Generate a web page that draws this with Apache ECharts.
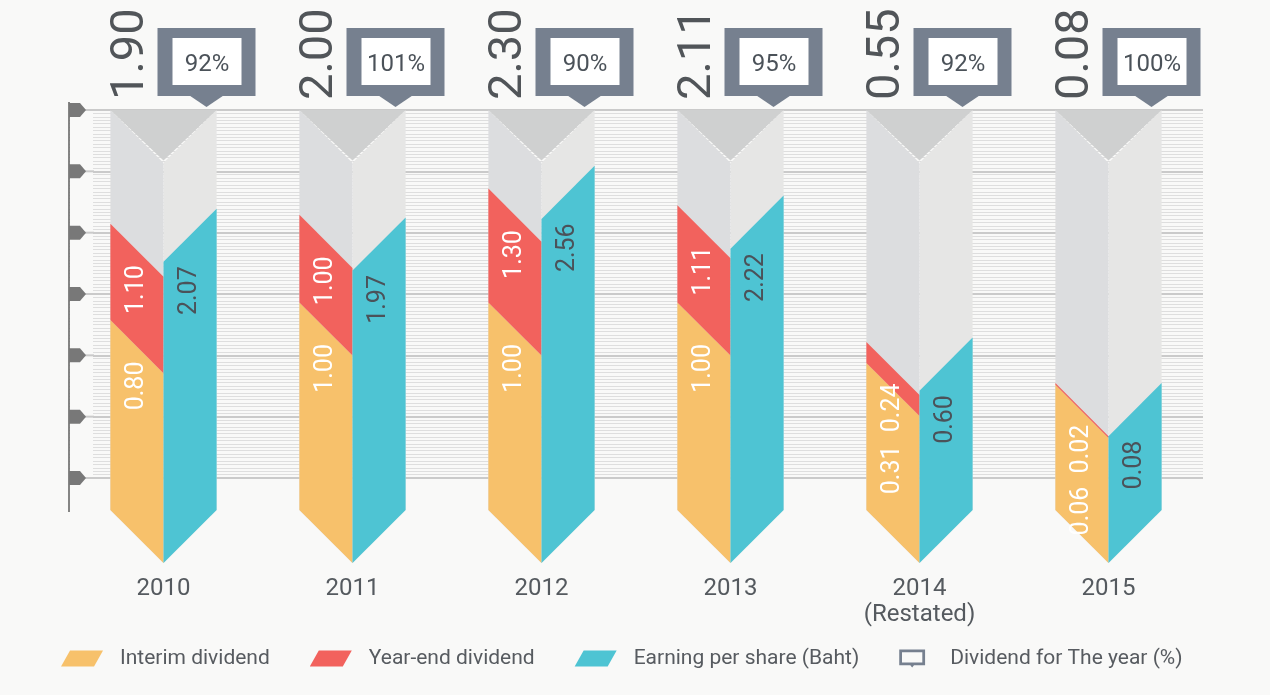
<!DOCTYPE html>
<html><head><meta charset="utf-8">
<script src="https://cdn.jsdelivr.net/npm/echarts@6/dist/echarts.min.js"></script>
<style>html,body{margin:0;padding:0;background:#f9f9f8;} #chart{width:1270px;height:695px;}</style>
</head><body><div id="chart"></div>
<script>
// ---- data ----
const years = ['2010', '2011', '2012', '2013', '2014\n(Restated)', '2015'];
const interimDividend = [0.80, 1.00, 1.00, 1.00, 0.31, 0.06];
const yearEndDividend = [1.10, 1.00, 1.30, 1.11, 0.24, 0.02];
const earningPerShare = [2.07, 1.97, 2.56, 2.22, 0.60, 0.08];
const payoutPercent = [92, 101, 90, 95, 92, 100];

// ---- style ----
const FONT = 'Roboto, "Noto Sans", sans-serif';
const C_INTERIM = '#f7c16b', C_YEAREND = '#f2625d', C_EPS = '#4ec4d3', C_CALLOUT = '#76808f';
const C_TEXT = '#4b5259', BG = '#f9f9f8';
const COL = 0.281;          // column width as a fraction of the category band
const AX_MIN = -0.7, AX_MAX = 3.5, AX_INT = 0.7;

function frame(params, api) {
  const cs = params.coordSys;
  const i = api.value(0);
  const cx = api.coord([i, 0])[0];
  const w = api.size([1, 0])[0] * COL;
  return { i, cx, w, top: cs.y, baseMid: cs.y + cs.height + 58.5 };
}
const yOf = (api, i, v) => api.coord([i, v])[1];
const leftPoly = (cx, w, yHi, yLo) => [[cx - w, yHi - w / 2], [cx, yHi + w / 2], [cx, yLo + w / 2], [cx - w, yLo - w / 2]];
const rightPoly = (cx, w, yHi, yLo) => [[cx, yHi + w / 2], [cx + w, yHi - w / 2], [cx + w, yLo - w / 2], [cx, yLo + w / 2]];
function vText(x, y, text, align, size, color) {
  return { type: 'text', x, y, rotation: Math.PI / 2,
    style: { text, align, verticalAlign: 'middle', fontSize: size, fontFamily: FONT, fill: color } };
}

const idx = years.map((_, i) => i);
const PARA = 'path://M9,0 L42,0 L33,16 L0,16 Z';
const CALL = 'path://M0,0 L28,0 L28,17 L16,17 L14,19.5 L12,17 L0,17 Z M3,3 L3,14 L25,14 L25,3 Z';

const chart = echarts.init(document.getElementById('chart'));
chart.setOption({
  backgroundColor: BG,
  animation: false,
  grid: { left: 69, right: 67, top: 110, bottom: 217 },
  xAxis: {
    type: 'category', data: years,
    axisLine: { show: false }, axisTick: { show: false }, splitLine: { show: false },
    axisLabel: { margin: 98, fontSize: 24, color: '#555a5f', fontFamily: FONT, lineHeight: 26 }
  },
  yAxis: {
    type: 'value', min: AX_MIN, max: AX_MAX, interval: AX_INT,
    axisLabel: { show: false }, axisLine: { show: false }, axisTick: { show: false },
    splitLine: { show: true, lineStyle: { color: '#cacaca', width: 2 } },
    minorTick: { show: false, splitNumber: 18 },
    minorSplitLine: { show: true, lineStyle: { color: '#dedede', width: 1 } }
  },
  legend: {
    left: 56, top: 643, itemWidth: 42, itemHeight: 18, itemGap: 40, selectedMode: false,
    textStyle: { fontSize: 21, color: '#575b60', fontFamily: FONT, padding: [0, 0, 0, 12] },
    data: [
      { name: 'Interim dividend', icon: PARA },
      { name: 'Year-end dividend', icon: PARA },
      { name: 'Earning per share (Baht)', icon: PARA },
      { name: 'Dividend for The year (%)', icon: CALL }
    ]
  },
  series: [
    { // grey background columns
      type: 'custom', name: 'bg', silent: true,
      data: idx.map(i => [i, 0]), encode: { x: 0, y: 1 },
      renderItem(params, api) {
        const f = frame(params, api);
        return { type: 'group', children: [
          { type: 'polygon', shape: { points: leftPoly(f.cx, f.w, f.top + f.w / 2, f.baseMid) }, style: { fill: '#dcdddf' } },
          { type: 'polygon', shape: { points: rightPoly(f.cx, f.w, f.top + f.w / 2, f.baseMid) }, style: { fill: '#e6e6e5' } },
          { type: 'polygon', shape: { points: [[f.cx - f.w, f.top], [f.cx + f.w, f.top], [f.cx, f.top + f.w * 0.95]] }, style: { fill: '#cfd0d0' } }
        ] };
      }
    },
    {
      type: 'custom', name: 'Interim dividend', itemStyle: { color: C_INTERIM },
      data: idx.map(i => [i, interimDividend[i], interimDividend[i] + yearEndDividend[i]]), encode: { x: 0, y: 1 },
      renderItem(params, api) {
        const f = frame(params, api);
        const v = api.value(1), tot = api.value(2);
        const yI = yOf(api, f.i, v), yT = yOf(api, f.i, tot);
        const ly = Math.max(yI + 15, yT + 15 + 50 + 12);
        return { type: 'group', children: [
          { type: 'polygon', shape: { points: leftPoly(f.cx, f.w, yI, f.baseMid) }, style: { fill: C_INTERIM } },
          vText(f.cx - f.w / 2, ly, v.toFixed(2), 'right', 25, '#ffffff')
        ] };
      }
    },
    {
      type: 'custom', name: 'Year-end dividend', itemStyle: { color: C_YEAREND },
      data: idx.map(i => [i, interimDividend[i], interimDividend[i] + yearEndDividend[i], yearEndDividend[i]]), encode: { x: 0, y: 2 },
      renderItem(params, api) {
        const f = frame(params, api);
        const lo = api.value(1), hi = api.value(2), v = api.value(3);
        const yI = yOf(api, f.i, lo), yT = yOf(api, f.i, hi);
        return { type: 'group', children: [
          { type: 'polygon', shape: { points: leftPoly(f.cx, f.w, yT, yI) }, style: { fill: C_YEAREND } },
          vText(f.cx - f.w / 2, yT + 15, v.toFixed(2), 'right', 25, '#ffffff'),
          vText(f.cx - 32, f.top - 10, hi.toFixed(2), 'left', 47, '#515559')
        ] };
      }
    },
    {
      type: 'custom', name: 'Earning per share (Baht)', itemStyle: { color: C_EPS },
      data: idx.map(i => [i, earningPerShare[i]]), encode: { x: 0, y: 1 },
      renderItem(params, api) {
        const f = frame(params, api);
        const v = api.value(1);
        const yE = yOf(api, f.i, v);
        return { type: 'group', children: [
          { type: 'polygon', shape: { points: rightPoly(f.cx, f.w, yE, f.baseMid) }, style: { fill: C_EPS } },
          vText(f.cx + f.w / 2, yE + 31, v.toFixed(2), 'right', 25, C_TEXT)
        ] };
      }
    },
    {
      type: 'custom', name: 'Dividend for The year (%)', itemStyle: { color: C_CALLOUT },
      data: idx.map(i => [i, payoutPercent[i]]), encode: { x: 0 },
      renderItem(params, api) {
        const f = frame(params, api);
        const p = api.value(1);
        const t = f.top, x = f.cx;
        return { type: 'group', children: [
          { type: 'rect', shape: { x: x - 6, y: t - 82, width: 98, height: 68 }, style: { fill: C_CALLOUT } },
          { type: 'polygon', shape: { points: [[x + 26, t - 14.5], [x + 60, t - 14.5], [x + 43, t - 3]] }, style: { fill: C_CALLOUT } },
          { type: 'rect', shape: { x: x + 9, y: t - 72, width: 69, height: 47 }, style: { fill: '#ffffff' } },
          { type: 'text', x: x + 43.5, y: t - 45, style: { text: p + '%', align: 'center', verticalAlign: 'middle', fontSize: 24, fontFamily: FONT, fill: C_TEXT } }
        ] };
      }
    }
  ]
});

// left axis decoration: line, tick markers, cover strip for fine lines
const gfx = [
  { type: 'rect', z: 1, shape: { x: 70, y: 100, width: 23, height: 400 }, style: { fill: BG } },
  { type: 'line', z: 3, shape: { x1: 69, y1: 102, x2: 69, y2: 512 }, style: { stroke: '#5e5e5e', lineWidth: 1.5 } }
];
for (let v = AX_MIN; v <= AX_MAX + 1e-9; v += AX_INT) {
  const y = chart.convertToPixel({ yAxisIndex: 0 }, v);
  gfx.push({ type: 'line', z: 1, shape: { x1: 84, y1: y, x2: 94, y2: y }, style: { stroke: '#cacaca', lineWidth: 2 } });
  gfx.push({ type: 'polygon', z: 3, shape: { points: [[69, y - 7], [80, y - 7], [86, y], [80, y + 7], [69, y + 7]] }, style: { fill: '#787878' } });
}
chart.setOption({ graphic: gfx });
</script>
</body></html>
